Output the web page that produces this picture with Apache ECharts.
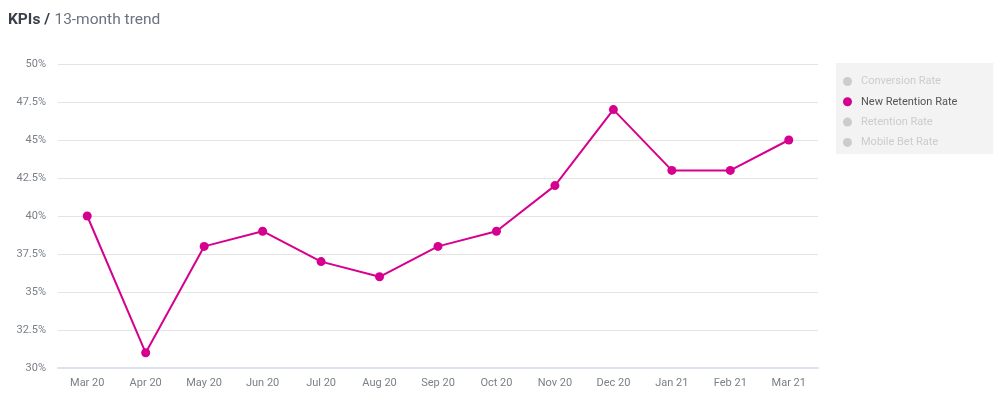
<!DOCTYPE html>
<html><head><meta charset="utf-8">
<script src="https://cdn.jsdelivr.net/npm/echarts@6/dist/echarts.min.js"></script>
<style>html,body{margin:0;padding:0;background:#fff}#c{width:1000px;height:402px}</style>
</head><body><div id="c"></div>
<script>
const categories = ['Mar 20','Apr 20','May 20','Jun 20','Jul 20','Aug 20','Sep 20','Oct 20','Nov 20','Dec 20','Jan 21','Feb 21','Mar 21'];
const newRetentionRate = [40,31,38,39,37,36,38,39,42,47,43,43,45];
const seriesNames = ['Conversion Rate','New Retention Rate','Retention Rate','Mobile Bet Rate'];
const yTicks = {min:30, max:50, interval:2.5};

const chart = echarts.init(document.getElementById('c'));
const series = seriesNames.map(n => ({
  name: n, type: 'line',
  data: n === 'New Retention Rate' ? newRetentionRate : [],
  symbol: 'circle', symbolSize: 9,
  lineStyle: {width: 2, color: '#d6008e'},
  itemStyle: {color: '#d6008e'}
}));
chart.setOption({
  animation: false,
  textStyle: {fontFamily: 'Roboto'},
  title: {
    left: 3, top: 6,
    text: '{b|KPIs /} {n|13-month trend}',
    textStyle: {rich: {
      b: {fontFamily:'Roboto', fontWeight:'bold', fontSize:15.5, color:'#3a3f4a'},
      n: {fontFamily:'Roboto', fontWeight:'normal', fontSize:15.5, color:'#6b7280'}
    }}
  },
  grid: {left: 58, right: 182, top: 64, bottom: 34, containLabel: false},
  legend: {
    orient: 'vertical', left: 836, top: 63,
    padding: [13, 36, 6, 7],
    backgroundColor: '#f3f3f3',
    icon: 'circle', itemWidth: 9, itemHeight: 9, itemGap: 9.3,
    textStyle: {fontSize: 11, color: '#555', fontFamily: 'Roboto', padding: [0,0,0,4]},
    inactiveColor: '#cccccc',
    data: seriesNames,
    selected: {'Conversion Rate': false, 'New Retention Rate': true, 'Retention Rate': false, 'Mobile Bet Rate': false}
  },
  xAxis: {
    type: 'category', data: categories, boundaryGap: true,
    axisLine: {lineStyle: {color: '#dde3ee', width: 2}},
    axisTick: {alignWithLabel: true, length: 6, lineStyle: {color: '#dde3ee'}},
    axisLabel: {color: '#7a8088', fontSize: 11, margin: 10}
  },
  yAxis: {
    type: 'value', min: yTicks.min, max: yTicks.max, interval: yTicks.interval,
    axisLine: {show: false}, axisTick: {show: false},
    axisLabel: {color: '#7a8088', fontSize: 11, margin: 12, formatter: v => v + '%'},
    splitLine: {lineStyle: {color: '#e4e4e4'}}
  },
  series: series
});
</script></body></html>
